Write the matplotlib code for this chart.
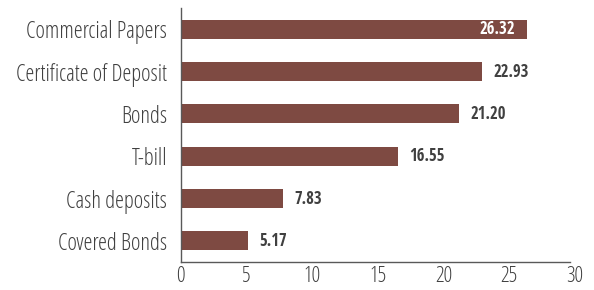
import matplotlib
matplotlib.use("Agg")
import matplotlib.pyplot as plt
from matplotlib import font_manager as fm
from matplotlib.transforms import ScaledTranslation

categories = ["Covered Bonds", "Cash deposits", "T-bill", "Bonds",
              "Certificate of Deposit", "Commercial Papers"]
values = [5.17, 7.83, 16.55, 21.20, 22.93, 26.32]
xticks = [0, 5, 10, 15, 20, 25, 30]

BAR = "#7e4a42"
TXT = "#404040"

# look for a narrow / condensed sans face, fall back to DejaVu Sans
def pick(weight):
    cands = [f for f in fm.fontManager.ttflist
             if (f.stretch in ("condensed", "semi-condensed") or "Narrow" in f.name
                 or "Condensed" in f.name)
             and not any(k in f.name for k in ("Serif", "Slab", "Mono"))
             and f.style == "normal"
             and ((f.weight in (600, 700, "bold")) == (weight == "bold"))]
    pref = ["Open Sans", "Roboto", "Noto Sans", "Liberation Sans Narrow", "DejaVu Sans"]
    cands.sort(key=lambda f: next((i for i, p in enumerate(pref) if f.name.startswith(p)), 9))
    return fm.FontProperties(fname=cands[0].fname) if cands else fm.FontProperties(family="DejaVu Sans", weight=weight)
reg, bold = pick("normal"), pick("bold")

fig = plt.figure(figsize=(5.94, 2.90), dpi=100)
ax = fig.add_axes([180.5/594, 28/290, 394.5/594, 254/290])
ax.barh(range(len(values)), values, height=0.45, color=BAR)
ax.set_xlim(0, 30); ax.set_ylim(-0.5, 5.5)
ax.set_xticks(xticks)
ax.set_yticks(range(len(categories)))
ax.set_yticklabels(categories)
shift = ScaledTranslation(-4/100, 0, fig.dpi_scale_trans)
for lab in ax.get_xticklabels():
    lab.set_fontproperties(reg); lab.set_fontsize(15.5); lab.set_color(TXT)
    lab.set_transform(lab.get_transform() + shift)
for lab in ax.get_yticklabels():
    lab.set_fontproperties(reg); lab.set_fontsize(16.3); lab.set_color(TXT)
ax.tick_params(axis="y", length=0, pad=9.5)
ax.tick_params(axis="x", length=0, pad=3)
for s in ("top", "right"):
    ax.spines[s].set_visible(False)
for s in ("left", "bottom"):
    ax.spines[s].set_color("#595959"); ax.spines[s].set_linewidth(1)
ax.spines["bottom"].set_bounds(0, 29.6)
for i, v in enumerate(values):
    if v == max(values):
        ax.text(v - 0.85, i, f"{v:.2f}", ha="right", va="center", color="white",
                fontproperties=bold, fontsize=12)
    else:
        ax.text(v + 0.85, i, f"{v:.2f}", ha="left", va="center", color=TXT,
                fontproperties=bold, fontsize=12)
fig.savefig("out.png", dpi=100)
